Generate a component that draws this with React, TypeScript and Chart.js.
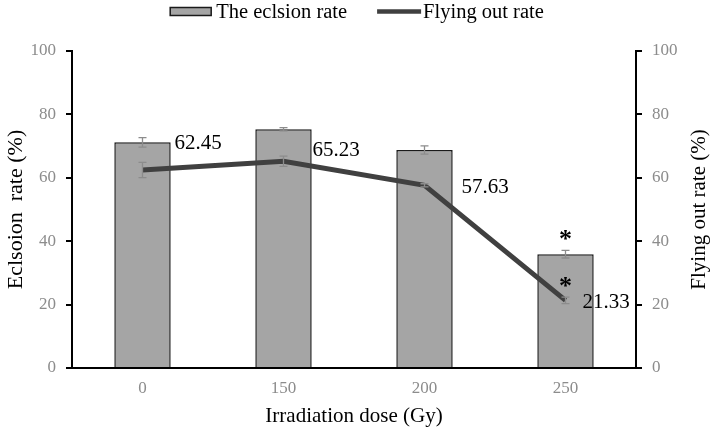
import React, { useEffect, useRef } from "react";
import { Chart, registerables } from "chart.js";

Chart.register(...registerables);

const categories = ["0", "150", "200", "250"];
const eclosionRate = [71.2, 75.3, 68.8, 35.9];
const eclosionErr = [1.5, 0.5, 1.3, 1.2];
const flyingRate = [62.45, 65.23, 57.63, 21.33];
const flyingErr = [2.4, 1.6, 0.5, 1.0];
const flyingLabels = ["62.45", "65.23", "57.63", "21.33"];
const significant = [false, false, false, true];
const seriesNames = ["The eclsion rate", "Flying out rate"];
const rightTitle = "Flying out rate (%)";

const FONT = "'Liberation Serif', 'Times New Roman', serif";
const BAR_FILL = "#a5a5a5";
const BAR_EDGE = "#1a1a1a";
const LINE_COLOR = "#404040";

const overlayPlugin = {
  id: "overlay",
  afterDatasetsDraw(chart: any) {
    const ctx = chart.ctx;
    const x = chart.scales.x;
    const y1 = chart.scales.y;
    const y2 = chart.scales.y2;
    ctx.save();
    const drawErr = (cx: number, v: number, e: number, scale: any) => {
      const top = scale.getPixelForValue(v + e);
      const bot = scale.getPixelForValue(v - e);
      ctx.strokeStyle = "#8c8c8c";
      ctx.lineWidth = 1.3;
      ctx.beginPath();
      ctx.moveTo(cx, top);
      ctx.lineTo(cx, bot);
      ctx.moveTo(cx - 4, top);
      ctx.lineTo(cx + 4, top);
      ctx.moveTo(cx - 4, bot);
      ctx.lineTo(cx + 4, bot);
      ctx.stroke();
    };
    categories.forEach((_, i) => {
      const cx = x.getPixelForValue(i);
      drawErr(cx, eclosionRate[i], eclosionErr[i], y1);
      drawErr(cx, flyingRate[i], flyingErr[i], y2);
    });
    const offsets = [
      [32, -27],
      [29, -11],
      [37, 2],
      [17, 2],
    ];
    ctx.fillStyle = "#000";
    ctx.font = `21px ${FONT}`;
    ctx.textAlign = "left";
    ctx.textBaseline = "middle";
    categories.forEach((_, i) => {
      const cx = x.getPixelForValue(i);
      const cy = y2.getPixelForValue(flyingRate[i]);
      ctx.fillText(flyingLabels[i], cx + offsets[i][0], cy + offsets[i][1]);
    });
    ctx.font = `bold 26px ${FONT}`;
    ctx.textAlign = "center";
    categories.forEach((_, i) => {
      if (!significant[i]) return;
      const cx = x.getPixelForValue(i);
      const bt = y1.getPixelForValue(eclosionRate[i] + eclosionErr[i]);
      ctx.fillText("*", cx, bt - 10);
      const lt = y2.getPixelForValue(flyingRate[i] + flyingErr[i]);
      ctx.fillText("*", cx, lt - 10);
    });
    ctx.restore();
  },
  afterDraw(chart: any) {
    const ctx = chart.ctx;
    const area = chart.chartArea;
    ctx.save();
    // right axis title, reading bottom to top
    ctx.font = `21px ${FONT}`;
    ctx.fillStyle = "#000";
    ctx.textAlign = "center";
    ctx.textBaseline = "middle";
    ctx.translate(chart.width - 15, (area.top + area.bottom) / 2);
    ctx.rotate(-Math.PI / 2);
    ctx.fillText(rightTitle, 0, 0);
    ctx.restore();

    // legend
    ctx.save();
    ctx.font = `20.5px ${FONT}`;
    ctx.textBaseline = "middle";
    ctx.textAlign = "left";
    const cy = 11.5;
    const boxW = 41;
    const lineW = 44;
    const w0 = ctx.measureText(seriesNames[0]).width;
    const w1 = ctx.measureText(seriesNames[1]).width;
    const total = boxW + 5 + w0 + 30 + lineW + 2 + w1;
    let lx = chart.width / 2 - total / 2;
    ctx.fillStyle = BAR_FILL;
    ctx.fillRect(lx, cy - 4, boxW, 8);
    ctx.strokeStyle = BAR_EDGE;
    ctx.lineWidth = 1.5;
    ctx.strokeRect(lx, cy - 4, boxW, 8);
    lx += boxW + 5;
    ctx.fillStyle = "#000";
    ctx.fillText(seriesNames[0], lx, cy + 1);
    lx += w0 + 30;
    ctx.strokeStyle = LINE_COLOR;
    ctx.lineWidth = 4.5;
    ctx.beginPath();
    ctx.moveTo(lx, cy);
    ctx.lineTo(lx + lineW, cy);
    ctx.stroke();
    lx += lineW + 2;
    ctx.fillText(seriesNames[1], lx, cy + 1);
    ctx.restore();
  },
};

export default function App() {
  const ref = useRef<HTMLCanvasElement>(null);
  useEffect(() => {
    document.body.style.margin = "0";
    const chart = new Chart(ref.current!, {
      type: "bar",
      data: {
        labels: categories,
        datasets: [
          {
            type: "line",
            label: seriesNames[1],
            data: flyingRate,
            yAxisID: "y2",
            borderColor: LINE_COLOR,
            backgroundColor: LINE_COLOR,
            borderWidth: 5,
            pointRadius: 0,
            order: 0,
          },
          {
            type: "bar",
            label: seriesNames[0],
            data: eclosionRate,
            yAxisID: "y",
            backgroundColor: BAR_FILL,
            borderColor: BAR_EDGE,
            borderWidth: 1.5,
            categoryPercentage: 1,
            barPercentage: 0.4,
            order: 1,
          },
        ],
      },
      options: {
        animation: false,
        responsive: false,
        layout: { padding: { top: 51 } },
        plugins: {
          tooltip: { enabled: false },
          legend: { display: false },
        },
        scales: {
          x: {
            grid: { display: false, drawTicks: false },
            border: { display: true, color: "#000", width: 2 },
            ticks: { color: "#8c8c8c", font: { family: FONT, size: 17 }, padding: 10 },
            title: {
              display: true,
              text: "Irradiation dose (Gy)",
              color: "#000",
              font: { family: FONT, size: 21 },
              padding: { top: 4, bottom: 4 },
            },
            afterFit: (s: any) => {
              s.height = 65;
            },
          },
          y: {
            position: "left",
            min: 0,
            max: 100,
            ticks: { stepSize: 20, color: "#8c8c8c", font: { family: FONT, size: 17 }, padding: 10 },
            grid: { drawOnChartArea: false, drawTicks: true, tickLength: 6, color: "#000", lineWidth: 2 },
            border: { display: true, color: "#000", width: 2 },
            title: {
              display: true,
              text: "Eclsoion  rate (%)",
              color: "#000",
              font: { family: FONT, size: 22 },
              padding: { top: 3, bottom: 4 },
            },
            afterFit: (s: any) => {
              s.width = 72;
            },
          },
          y2: {
            position: "right",
            min: 0,
            max: 100,
            ticks: { stepSize: 20, color: "#8c8c8c", font: { family: FONT, size: 17 }, padding: 10 },
            grid: { drawOnChartArea: false, drawTicks: true, tickLength: 6, color: "#000", lineWidth: 2 },
            border: { display: true, color: "#000", width: 2 },
            afterFit: (s: any) => {
              s.width = 78;
            },
          },
        },
      },
      plugins: [overlayPlugin],
    } as any);
    return () => chart.destroy();
  }, []);
  return (
    <div style={{ width: 714, height: 433 }}>
      <canvas ref={ref} width={714} height={433} style={{ display: "block" }} />
    </div>
  );
}
